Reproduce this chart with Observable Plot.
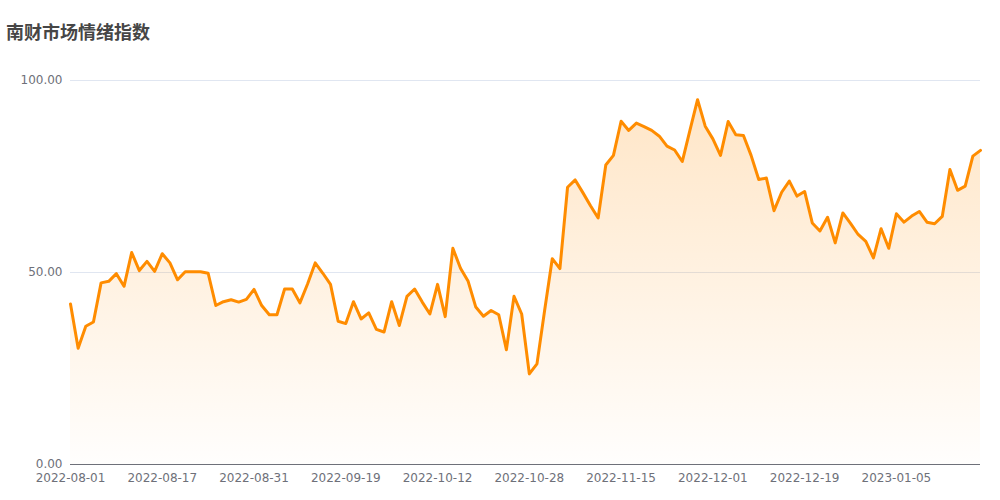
<!DOCTYPE html>
<html><head><meta charset="utf-8">
<script src="https://cdn.jsdelivr.net/npm/d3@7"></script>
<script src="https://cdn.jsdelivr.net/npm/@observablehq/plot@0.6"></script>
<style>
body{margin:0;background:#fff;font-family:"DejaVu Sans",sans-serif;}
#wrap{position:relative;width:1000px;height:500px;}
#title{position:absolute;left:6px;top:18px;font-family:"Noto Sans CJK SC",sans-serif;font-weight:bold;font-size:18px;color:#464646;z-index:2;}
#chart{position:absolute;left:0;top:0;}
</style></head>
<body>
<div id="wrap"><div id="title">南财市场情绪指数</div><div id="chart"></div></div>
<script>
const dates = [
"2022-08-01","2022-08-02","2022-08-03","2022-08-04","2022-08-05","2022-08-08","2022-08-09","2022-08-10","2022-08-11","2022-08-12",
"2022-08-15","2022-08-16","2022-08-17","2022-08-18","2022-08-19","2022-08-22","2022-08-23","2022-08-24","2022-08-25","2022-08-26",
"2022-08-27","2022-08-28","2022-08-29","2022-08-30","2022-08-31","2022-09-01","2022-09-02","2022-09-05","2022-09-06","2022-09-07",
"2022-09-08","2022-09-09","2022-09-13","2022-09-14","2022-09-15","2022-09-16","2022-09-19","2022-09-20","2022-09-21","2022-09-22",
"2022-09-23","2022-09-26","2022-09-27","2022-09-28","2022-09-29","2022-09-30","2022-10-10","2022-10-11","2022-10-12","2022-10-13",
"2022-10-14","2022-10-17","2022-10-18","2022-10-19","2022-10-20","2022-10-21","2022-10-24","2022-10-25","2022-10-26","2022-10-27",
"2022-10-28","2022-10-31","2022-11-01","2022-11-02","2022-11-03","2022-11-04","2022-11-07","2022-11-08","2022-11-09","2022-11-10",
"2022-11-11","2022-11-14","2022-11-15","2022-11-16","2022-11-17","2022-11-18","2022-11-21","2022-11-22","2022-11-23","2022-11-24",
"2022-11-25","2022-11-28","2022-11-29","2022-11-30","2022-12-01","2022-12-02","2022-12-05","2022-12-06","2022-12-07","2022-12-08",
"2022-12-09","2022-12-12","2022-12-13","2022-12-14","2022-12-15","2022-12-16","2022-12-19","2022-12-20","2022-12-21","2022-12-22",
"2022-12-23","2022-12-26","2022-12-27","2022-12-28","2022-12-29","2022-12-30","2023-01-03","2023-01-04","2023-01-05","2023-01-06",
"2023-01-09","2023-01-10","2023-01-11","2023-01-12","2023-01-13","2023-01-16","2023-01-17","2023-01-18","2023-01-19","2023-01-20"
];
const values = [
41.8,30.3,36.0,37.1,47.3,47.7,49.7,46.4,55.2,50.5,
52.9,50.3,54.9,52.5,48.1,50.2,50.2,50.2,49.8,41.4,
42.4,42.9,42.3,43.0,45.6,41.4,39.0,39.0,45.7,45.7,
42.1,47.0,52.5,49.8,46.9,37.3,36.7,42.4,37.9,39.5,
35.2,34.5,42.4,36.2,43.8,45.7,42.3,39.2,46.9,38.5,
56.3,51.1,47.7,41.0,38.6,40.1,39.0,29.9,43.8,39.2,
23.6,26.2,40.1,53.6,51.0,72.2,74.1,70.8,67.4,64.2,
78.0,80.5,89.4,87.0,88.9,88.0,87.0,85.5,82.9,81.9,
78.9,87.0,95.0,88.1,84.8,80.5,89.3,85.9,85.7,80.5,
74.2,74.6,66.1,70.9,73.8,69.9,71.1,62.9,60.8,64.4,
57.7,65.5,62.8,59.9,58.1,53.8,61.4,56.3,65.3,63.1,
64.7,65.9,63.1,62.7,64.6,76.8,71.4,72.5,80.3,81.8
];
const yTicks = [0, 50, 100];
const xTickIdx = dates.map((d,i)=>i).filter(i=>i%12===0);
const data = values.map((v,i)=>({i, date: dates[i], value: v}));

const chart = Plot.plot({
  width: 1000, height: 500,
  marginTop: 80, marginBottom: 36, marginLeft: 70, marginRight: 20,
  style: {fontFamily: "DejaVu Sans, sans-serif", fontSize: "12px", color: "#6e7079", background: "transparent"},
  x: {type: "linear", domain: [0, dates.length-1], ticks: xTickIdx, tickFormat: i => dates[i], tickSize: 0, tickPadding: 9, label: null},
  y: {domain: [0, 100], ticks: yTicks, tickFormat: d => d.toFixed(2), tickSize: 0, tickPadding: 8, label: null},
  marks: [
    Plot.ruleY(yTicks.filter(t=>t>0), {stroke: "#e0e6f1", strokeWidth: 1}),
    Plot.areaY(data, {x: "i", y: "value", fill: "url(#areaGrad)"}),
    Plot.ruleY([0], {stroke: "#6e7079", strokeWidth: 1}),
    Plot.line(data, {x: "i", y: "value", stroke: "#ff8c00", strokeWidth: 3, strokeLinejoin: "round"})
  ]
});
const ns = "http://www.w3.org/2000/svg";
const defs = document.createElementNS(ns, "defs");
defs.innerHTML = '<linearGradient id="areaGrad" x1="0" y1="0" x2="0" y2="1"><stop offset="0" stop-color="#ff8c00" stop-opacity="0.22"/><stop offset="1" stop-color="#ff8c00" stop-opacity="0.01"/></linearGradient>';
chart.insertBefore(defs, chart.firstChild);
document.getElementById("chart").appendChild(chart);
</script>
</body></html>
